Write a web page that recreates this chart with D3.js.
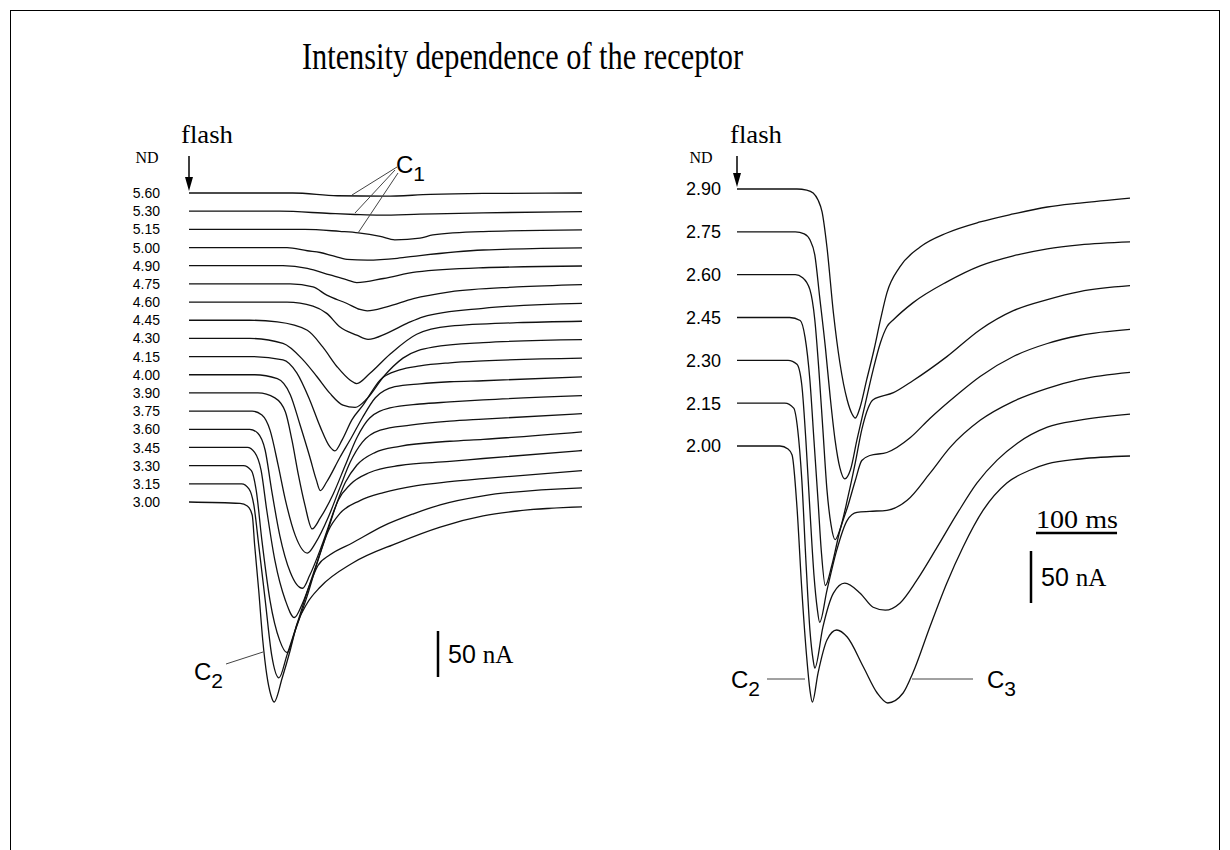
<!DOCTYPE html>
<html>
<head>
<meta charset="utf-8">
<script src="https://cdn.jsdelivr.net/npm/d3@7"></script>
<style>
  body { margin: 0; background: #fff; }
  svg { display: block; }
</style>
</head>
<body>
<div id="chart"></div>
<script>
const width = 1230;
const height = 850;

// ND (neutral density) of each flash, top trace first
const ndLeft = ["5.60", "5.30", "5.15", "5.00", "4.90", "4.75", "4.60", "4.45", "4.30",
                "4.15", "4.00", "3.90", "3.75", "3.60", "3.45", "3.30", "3.15", "3.00"];
const ndRight = ["2.90", "2.75", "2.60", "2.45", "2.30", "2.15", "2.00"];

// traces: [time after flash (ms), current (nA)]
const tracesLeft = [
  [[0,0],[128,0],[183,-3],[242,-3.5],[298,-1.5],[363,-0.5],[485,0]],
  [[0,0],[112,0],[174,-2.5],[205,-3.6],[236,-4.3],[285,-3.3],[363,-1.8],[485,-0.5]],
  [[0,0],[143,0],[186,-2.2],[209,-3.8],[236,-7.6],[254,-11.4],[285,-9.6],[301,-6],[363,-2.4],[485,-0.5]],
  [[0,0],[121,0],[146,-3.5],[162,-5.4],[178,-9.2],[195,-12.8],[220,-13.6],[257,-11.7],[285,-8.7],[363,-2.7],[485,-0.3]],
  [[0,0],[116,0],[146,-2.8],[174,-10.1],[195,-15.5],[207,-18.3],[240,-13.9],[281,-6.8],[363,-2.2],[485,-0.3]],
  [[0,0],[125,0],[153,-3.3],[170,-12.3],[195,-21.3],[211,-27.8],[220,-29.3],[244,-25],[277,-16.1],[322,-8.7],[405,-3.3],[485,-0.7]],
  [[0,0],[121,0],[153,-4.3],[170,-12.3],[186,-26.8],[207,-35.9],[221,-40.5],[244,-34],[269,-23.2],[289,-16],[363,-6.8],[485,-1.4]],
  [[0,0],[75,0],[109,-1.8],[146,-10.9],[165,-29],[183,-50.8],[199,-65.2],[207,-68.8],[223,-58],[248,-37],[281,-15.2],[322,-6.5],[405,-2.7],[485,-1.1]],
  [[0,0],[75,0],[116,-5.4],[141,-23.6],[158,-41.7],[174,-59.8],[190,-72.5],[205,-75],[220,-65.2],[240,-41.7],[264,-21.4],[301,-9.5],[363,-4.6],[485,-1.3]],
  [[0,0],[75,0],[116,-3.6],[133,-17.7],[149,-47.1],[162,-76.4],[174,-98.2],[180,-102.5],[189,-90.5],[201,-68.8],[215,-52.5],[236,-25.3],[260,-14.5],[285,-10.1],[322,-6.8],[363,-4.7],[485,-1.7]],
  [[0,0],[81,0],[109,-4.3],[125,-21.7],[137,-54.3],[149,-89.1],[157,-114],[162,-126],[170,-116.3],[186,-90.2],[201,-67.4],[214,-46.7],[230,-25],[254,-13],[285,-9.8],[322,-7.6],[363,-6.5],[485,-2.2]],
  [[0,0],[85,0],[106,-5.4],[119,-20.7],[127,-51.1],[135,-89.1],[143,-121.7],[152,-147.8],[162,-135.9],[178,-109.8],[193,-78.3],[207,-48.9],[223,-27.2],[248,-16.3],[285,-12],[322,-9.8],[363,-7.6],[485,-2.9]],
  [[0,0],[78,0],[90,-4.3],[100,-20.7],[110,-58.7],[119,-96.7],[131,-134.8],[146,-154.3],[156,-143.5],[172,-115.2],[186,-83.7],[199,-55.4],[214,-33.7],[236,-20.7],[273,-15.2],[322,-10.9],[363,-8.7],[485,-2.7]],
  [[0,0],[75,0],[85,-4.3],[94,-22.8],[102,-66.3],[112,-115.2],[125,-155.4],[140,-172.8],[149,-158.7],[164,-126.1],[180,-85.9],[193,-57.6],[207,-39.1],[230,-25],[260,-18.5],[322,-13],[363,-10.9],[485,-2.7]],
  [[0,0],[72,0],[81,-5.4],[89,-25],[96,-68.5],[106,-122.8],[119,-166.3],[130,-184.8],[140,-169.6],[156,-130.4],[172,-88],[184,-57.6],[199,-40.2],[223,-27.2],[260,-19.6],[322,-15.2],[363,-12],[485,-3.3]],
  [[0,0],[67,0],[77,-5.4],[83,-27.2],[90,-81.5],[100,-146.7],[112,-190.2],[121,-203.3],[131,-179.4],[146,-141.3],[159,-103.3],[172,-70.7],[186,-52.2],[211,-38],[240,-29.3],[281,-21.7],[322,-17.4],[363,-14.1],[485,-5.4]],
  [[0,0],[65,0],[74,-5.4],[80,-22.8],[86,-66.3],[94,-126.1],[102,-185.9],[111,-210.9],[121,-185.9],[135,-147.8],[149,-109.8],[159,-89.1],[174,-77.2],[202,-64.1],[240,-45.7],[277,-32.6],[310,-22.8],[363,-13],[485,-4.3]],
  [[0,0],[63,-1.6],[72,-4.3],[78,-14.1],[81,-46.7],[86,-95.7],[91,-150],[96,-188],[101,-209.8],[105,-217.4],[115,-191.3],[125,-160.9],[133,-133.7],[146,-109.8],[162,-92.4],[202,-66.3],[257,-44.6],[310,-27.2],[363,-15.2],[405,-9.8],[485,-5.4]]
];

const tracesRight = [
  [[0,0],[74,0],[86,-1],[94,-3.8],[100,-10.6],[105,-22.1],[111,-55.8],[119,-119.2],[127,-167.3],[136,-202.9],[142,-216.3],[146,-220.2],[152,-209.6],[160,-183.6],[169,-154.8],[177,-125.9],[185,-99.9],[201,-74.9],[226,-55.8],[259,-42.3],[300,-31.7],[341,-24],[383,-17.3],[423,-13.5],[485,-8.7]],
  [[0,0],[72,0],[83,-1.9],[90,-7.7],[96,-22.1],[102,-62.5],[109,-110.6],[115,-158.7],[121,-200],[127,-227],[133,-237.5],[140,-228.8],[148,-200],[158,-166.3],[168,-132.7],[177,-106.7],[185,-91.3],[193,-84.6],[217,-68.3],[259,-48.1],[300,-32.7],[341,-23.1],[383,-16.3],[423,-12.5],[485,-9.6]],
  [[0,0],[72,0],[81,-2.9],[90,-14.4],[96,-43.3],[101,-91.3],[106,-149],[111,-206.7],[116,-240.4],[121,-254.8],[127,-245.2],[137,-213.5],[146,-180.8],[154,-149],[162,-127.9],[168,-120.2],[193,-113.5],[217,-102],[259,-78.8],[300,-52.9],[341,-34.6],[383,-24],[423,-16.3],[485,-10.6]],
  [[0,0],[65,0],[78,-2.9],[84,-19.2],[90,-60.6],[95,-118.3],[100,-176],[104,-224],[109,-257.7],[117,-238.5],[127,-204.8],[137,-180.8],[146,-156.7],[154,-137.5],[164,-132.7],[185,-129.8],[214,-115.4],[238,-97.1],[272,-74],[300,-56.7],[341,-37.5],[383,-25],[423,-17.3],[485,-11.5]],
  [[0,0],[63,0],[74,-3.8],[80,-24],[85,-76.9],[90,-144.2],[95,-206.7],[99,-238.5],[102,-251.9],[111,-221.2],[123,-182.7],[136,-153.8],[148,-146.2],[164,-145.2],[185,-144.2],[210,-134.6],[238,-108.7],[263,-83.7],[300,-57.7],[341,-39.4],[383,-26.9],[423,-18.3],[485,-11.5]],
  [[0,0],[59,0],[70,-4.8],[75,-26],[80,-74],[85,-151],[90,-218.3],[94,-247.1],[96,-254.8],[106,-215.4],[119,-182.7],[133,-173.1],[152,-182.7],[168,-196.2],[183,-199],[201,-192.3],[222,-170.2],[247,-138.5],[272,-105.8],[296,-76.9],[321,-54.8],[346,-38.5],[383,-23.1],[423,-16.3],[485,-10.6]],
  [[0,0],[53,0],[63,-2.9],[68,-8.7],[74,-58.7],[80,-138.5],[86,-202.9],[90,-234.6],[93,-246.2],[100,-218.3],[111,-186.5],[123,-176.9],[136,-183.7],[156,-212.5],[173,-237.5],[186,-247.1],[205,-237.5],[217,-218.3],[238,-174],[259,-131.7],[279,-97.1],[304,-61.5],[333,-35.6],[362,-23.1],[383,-17.3],[423,-12.5],[485,-9.6]]
];

// calibration bars
const barCurrent = 50;  // nA
const barTime = 100;    // ms

const svg = d3.select("#chart").append("svg")
    .attr("width", width)
    .attr("height", height);

const serif = "'Liberation Serif', 'Times New Roman', serif";
const sans = "'Liberation Sans', Arial, sans-serif";

// frame
svg.append("rect")
    .attr("x", 10.5).attr("y", 10.5)
    .attr("width", 1209).attr("height", 900)
    .attr("fill", "none").attr("stroke", "#000").attr("stroke-width", 1);

svg.append("text")
    .attr("x", 302).attr("y", 69)
    .attr("textLength", 441).attr("lengthAdjust", "spacingAndGlyphs")
    .style("font", `38px ${serif}`)
    .text("Intensity dependence of the receptor");

function drawPanel(opts) {
  const { nd, traces, x, base, amp, labelX, labelSize, ndX, flashX } = opts;
  const g = svg.append("g");

  const line = d3.line()
      .x(d => x(d[0]))
      .curve(d3.curveMonotoneX);

  g.selectAll("path.trace")
    .data(traces)
    .join("path")
      .attr("class", "trace")
      .attr("fill", "none")
      .attr("stroke", "#111")
      .attr("stroke-width", 1.3)
      .attr("stroke-linejoin", "round")
      .attr("d", (d, i) => line.y(p => base(nd[i]) + amp(p[1]))(d));

  g.selectAll("text.nd")
    .data(nd)
    .join("text")
      .attr("class", "nd")
      .attr("x", labelX)
      .attr("y", d => base(d))
      .attr("dy", "0.36em")
      .attr("text-anchor", "end")
      .style("font", `${labelSize}px ${sans}`)
      .text(d => d);

  g.append("text")
      .attr("x", ndX).attr("y", 163)
      .attr("text-anchor", "middle")
      .style("font", `16px ${serif}`)
      .text("ND");

  g.append("text")
      .attr("x", flashX).attr("y", 143)
      .attr("textLength", 52).attr("lengthAdjust", "spacingAndGlyphs")
      .style("font", `26px ${serif}`)
      .text("flash");

  // flash arrow
  const ax = x(0), top = 156, tip = base(nd[0]) - 2;
  g.append("line")
      .attr("x1", ax).attr("x2", ax)
      .attr("y1", top).attr("y2", tip - 10)
      .attr("stroke", "#000").attr("stroke-width", 1.5);
  g.append("path")
      .attr("d", `M${ax - 4},${tip - 14}L${ax + 4},${tip - 14}L${ax},${tip}Z`)
      .attr("fill", "#000");
  return g;
}

const xL = d3.scaleLinear().domain([0, 485]).range([189, 582]);
const baseL = d3.scalePoint().domain(ndLeft).range([193, 502]);
const ampL = d3.scaleLinear().domain([0, -barCurrent]).range([0, 46]);

const xR = d3.scaleLinear().domain([0, 485]).range([737, 1130]);
const baseR = d3.scalePoint().domain(ndRight).range([189, 446]);
const ampR = d3.scaleLinear().domain([0, -barCurrent]).range([0, 52]);

drawPanel({ nd: ndLeft, traces: tracesLeft, x: xL, base: baseL, amp: ampL,
            labelX: 160, labelSize: 14, ndX: 147, flashX: 181 });
drawPanel({ nd: ndRight, traces: tracesRight, x: xR, base: baseR, amp: ampR,
            labelX: 721, labelSize: 18, ndX: 701, flashX: 730 });

// current bars
function currentBar(x0, y0, amp) {
  svg.append("line")
      .attr("x1", x0).attr("x2", x0)
      .attr("y1", y0).attr("y2", y0 + amp(-barCurrent))
      .attr("stroke", "#000").attr("stroke-width", 2.5);
  const t = svg.append("text")
      .attr("x", x0 + 10).attr("y", y0 + amp(-barCurrent) / 2 + 9)
      .style("font", `25px ${sans}`);
  t.append("tspan").text("50 ");
  t.append("tspan").style("font-family", serif).text("nA");
}
currentBar(438, 631, ampL);
currentBar(1031, 551, ampR);

// time bar
svg.append("line")
    .attr("x1", 1036).attr("x2", 1036 + xR(barTime) - xR(0))
    .attr("y1", 533).attr("y2", 533)
    .attr("stroke", "#000").attr("stroke-width", 2.5);
svg.append("text")
    .attr("x", 1036).attr("y", 528)
    .attr("textLength", 82).attr("lengthAdjust", "spacingAndGlyphs")
    .style("font", `26px ${serif}`)
    .text("100 ms");

// component labels
function compLabel(x0, y0, sub) {
  const t = svg.append("text").attr("x", x0).attr("y", y0)
      .style("font", `24px ${sans}`);
  t.append("tspan").text("C");
  t.append("tspan").attr("dy", 8).style("font-size", "21px").text(sub);
}
compLabel(396, 173, "1");
compLabel(194, 680, "2");
compLabel(731, 688, "2");
compLabel(987, 688, "3");

const leaders = [
  [397, 167, 352, 195], [395, 170, 355, 213], [398, 173, 358, 233],
  [226, 664, 263, 652],
  [767, 679, 805, 679], [912, 679, 973, 679]
];
svg.selectAll("line.leader")
  .data(leaders)
  .join("line")
    .attr("class", "leader")
    .attr("x1", d => d[0]).attr("y1", d => d[1])
    .attr("x2", d => d[2]).attr("y2", d => d[3])
    .attr("stroke", "#444").attr("stroke-width", 1);
</script>
</body>
</html>
